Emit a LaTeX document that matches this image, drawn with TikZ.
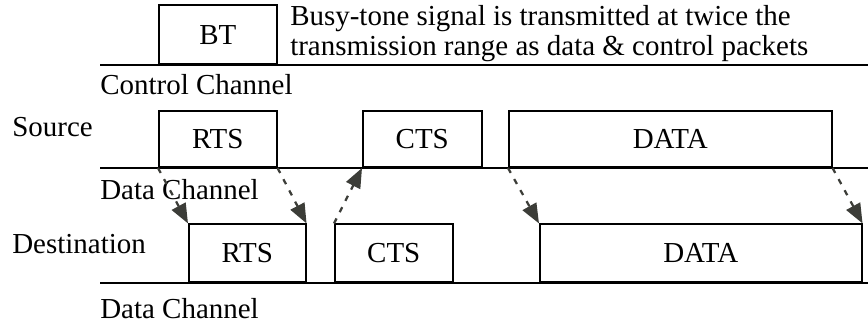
\documentclass[tikz,border=0pt]{standalone}
\usepackage{fontspec}
\setmainfont{Liberation Serif}
\usetikzlibrary{arrows.meta}
\definecolor{hopgray}{HTML}{3C3D38}
\newcommand\pix{0.025cm}
\tikzset{
  pkt/.style={draw, line width=1.1pt, inner sep=0pt, anchor=south west, font=\fontsize{20.6}{21.3}\selectfont},
  chan/.style={line width=1.6pt},
  lbl/.style={inner sep=0pt, anchor=base west, font=\fontsize{20.6}{21.3}\selectfont},
  hop/.style={color=hopgray, line width=1.6pt, dash pattern=on 4pt off 5pt, -{Triangle[length=14pt,width=11pt]}}
}

\begin{document}
\begin{tikzpicture}[x=0.025cm, y=-0.025cm]
			%%%%% START %%%%%
			\useasboundingbox (0,0) rectangle (868,322);
			
			% control channel
			\node[pkt, minimum width=118*\pix, minimum height=59*\pix] (bt) at (158,65) {BT};
			\draw[chan] (100,65) -- (868,65);
			\node[lbl, align=left] (note) at (290,55) {Busy-tone signal is transmitted at twice the\\transmission range as data \& control packets};
			\node[lbl] (ctrl) at (100,94) {Control Channel};
			
			% source
			\node[lbl] (src) at (12,136) {Source};
			\node[pkt, minimum width=118*\pix, minimum height=56*\pix] (srts) at (158,168) {RTS};
			\node[pkt, minimum width=119*\pix, minimum height=56*\pix] (scts) at (362,168) {CTS};
			\node[pkt, minimum width=323*\pix, minimum height=56*\pix] (sdata) at (508,168) {DATA};
			\draw[chan] (100,168) -- (868,168);
			\node[lbl] (sch) at (100,199) {Data Channel};
			
			% destination
			\node[lbl] (dst) at (12,253) {Destination};
			\node[pkt, minimum width=117*\pix, minimum height=58*\pix] (drts) at (188,283) {RTS};
			\node[pkt, minimum width=118*\pix, minimum height=58*\pix] (dcts) at (334,283) {CTS};
			\node[pkt, minimum width=322*\pix, minimum height=58*\pix] (ddata) at (539,283) {DATA};
			\draw[chan] (100,283) -- (868,283);
			\node[lbl] (dch) at (100,318) {Data Channel};
			
			% hops
			\draw[hop] (srts.south west) -- (drts.north west);
			\draw[hop] (srts.south east) -- (drts.north east);
			\draw[hop] (dcts.north west) -- (scts.south west);
			\draw[hop] (sdata.south west) -- (ddata.north west);
			\draw[hop] (sdata.south east) -- (ddata.north east);
			
			%%%%% END %%%%%
		\end{tikzpicture}
\end{document}
